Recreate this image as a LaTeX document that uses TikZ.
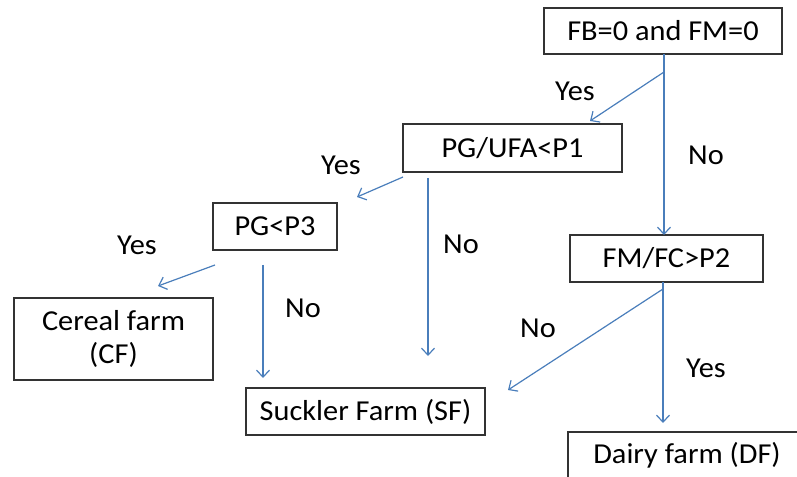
\documentclass[tikz,border=0pt]{standalone}
\usepackage{fontspec}
\setmainfont{Carlito}[FakeStretch=1.05]
\usetikzlibrary{arrows.meta,calc}
\definecolor{arrowblue}{HTML}{4A7EBB}
\definecolor{boxline}{HTML}{333333}
\tikzset{
  box/.style={draw=boxline, line width=1.2bp, fill=white, inner sep=0pt, align=center,
    font=\fontsize{29pt}{33.5pt}\selectfont},
  lbl/.style={inner sep=0pt, font=\fontsize{29pt}{33pt}\selectfont},
  conn/.style={draw=arrowblue, line width=1.2bp, -{Straight Barb[length=7bp,width=13bp]}},
  plain/.style={draw=arrowblue, line width=1.2bp}
}
\begin{document}
\begin{tikzpicture}[x=1bp,y=-1bp]
\useasboundingbox (0,0) rectangle (797,477);
\clip (0,0) rectangle (797,477);
% boxes
\node[box, minimum width=238bp, minimum height=46bp] (fb) at (663,31) {FB=0 and FM=0};
\node[box, minimum width=219bp, minimum height=48bp] (pg1) at (512.5,148) {PG/UFA<P1};
\node[box, minimum width=124bp, minimum height=47bp] (pg3) at (275,226.5) {PG<P3};
\node[box, minimum width=199bp, minimum height=82bp] (cf) at (113.5,339) {Cereal farm\\(CF)};
\node[box, minimum width=193bp, minimum height=47bp] (fmfc) at (666.5,258.5) {FM/FC>P2};
\node[box, minimum width=239bp, minimum height=47bp] (sf) at (365.5,411.5) {Suckler Farm (SF)};
\node[box, minimum width=238bp, minimum height=47bp] (df) at (687,455.5) {Dairy farm (DF)};
% connector end points
\coordinate (fbNo) at (664,54);
\coordinate (fbNoEnd) at (664,235);
\coordinate (fbYes) at (664,72);
\coordinate (pgoneIn) at (590,121);
\coordinate (pgoneYes) at (403,177);
\coordinate (pgthreeIn) at (357,197);
\coordinate (pgoneNo) at (428,178);
\coordinate (pgoneNoEnd) at (428,356);
\coordinate (pgthreeYes) at (215,265);
\coordinate (cfIn) at (158,286);
\coordinate (pgthreeNo) at (263,265);
\coordinate (pgthreeNoEnd) at (263,378);
\coordinate (fmNo) at (663,289);
\coordinate (sfIn) at (508,390);
\coordinate (fmYes) at (663,282);
\coordinate (dfIn) at (663,423);
% connectors
\draw[conn] (fbNo) -- (fbNoEnd);
\draw[conn] (fbYes) -- (pgoneIn);
\draw[conn] (pgoneYes) -- (pgthreeIn);
\draw[conn] (pgoneNo) -- (pgoneNoEnd);
\draw[conn] (pgthreeYes) -- (cfIn);
\draw[conn] (pgthreeNo) -- (pgthreeNoEnd);
\draw[conn] (fmNo) -- (sfIn);
\draw[conn] (fmYes) -- (dfIn);
% labels
\node[lbl] (l1) at (575,91) {Yes};
\node[lbl] (l2) at (706,155) {No};
\node[lbl] (l3) at (341,165) {Yes};
\node[lbl] (l4) at (461,244) {No};
\node[lbl] (l5) at (137,245) {Yes};
\node[lbl] (l6) at (303,308) {No};
\node[lbl] (l7) at (538,328) {No};
\node[lbl] (l8) at (706,368) {Yes};
\end{tikzpicture}
\end{document}
